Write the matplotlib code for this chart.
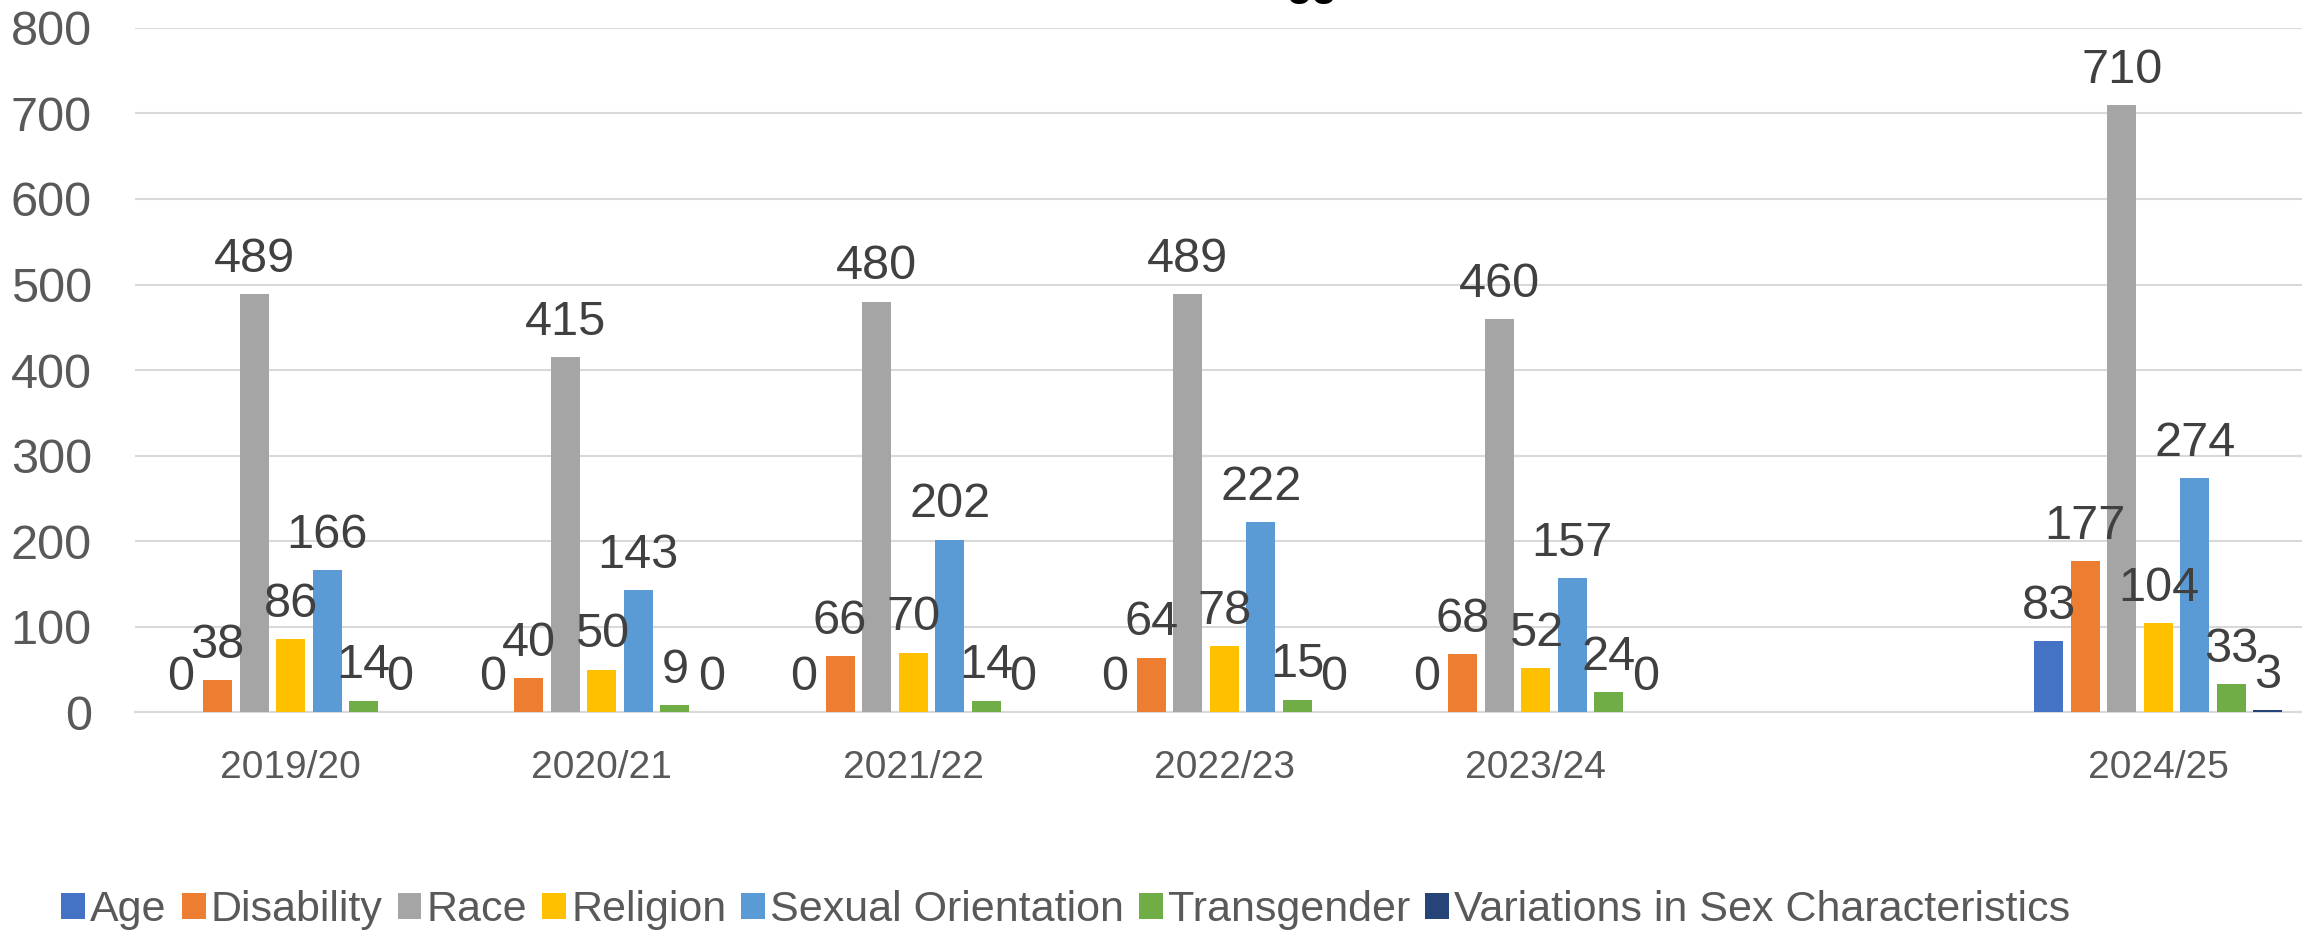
import numpy as np
import matplotlib.pyplot as plt

plt.rcParams['font.family'] = ['Liberation Sans', 'DejaVu Sans']

years = ['2019/20', '2020/21', '2021/22', '2022/23', '2023/24', '', '2024/25']
series = ['Age', 'Disability', 'Race', 'Religion', 'Sexual Orientation',
          'Transgender', 'Variations in Sex Characteristics']
colors = ['#4472C4', '#ED7D31', '#A5A5A5', '#FFC000', '#5B9BD5', '#70AD47', '#264478']

nan = np.nan
age = [0, 0, 0, 0, 0, nan, 83]
disability = [38, 40, 66, 64, 68, nan, 177]
race = [489, 415, 480, 489, 460, nan, 710]
religion = [86, 50, 70, 78, 52, nan, 104]
sexual_orientation = [166, 143, 202, 222, 157, nan, 274]
transgender = [14, 9, 14, 15, 24, nan, 33]
variations = [0, 0, 0, 0, 0, nan, 3]
values = [age, disability, race, religion, sexual_orientation, transgender, variations]

fig = plt.figure(figsize=(23.02, 9.31), dpi=100)
ax = fig.add_axes([0.0586, 0.2347, 0.9466, 0.7355])

x = np.arange(len(years))
pitch = 0.1173
width = 0.0932
for i, (name, vals, c) in enumerate(zip(series, values, colors)):
    pos = x + (i - 3) * pitch
    v = np.array(vals, dtype=float)
    ax.bar(pos, v, width=width, color=c, label=name, zorder=3)
    for px, pv in zip(pos, v):
        if np.isnan(pv):
            continue
        ax.annotate(f'{int(pv)}', (px, pv), xytext=(0, 16), textcoords='offset points',
                    ha='center', va='baseline', fontsize=35, color='#404040', zorder=4)

ax.set_xlim(-0.5, len(years) - 0.5)
ax.set_ylim(0, 800)
ax.set_yticks(np.arange(0, 801, 100))
ax.set_xticks(x)
ax.set_xticklabels(years)
ax.tick_params(axis='y', length=0, pad=31, labelsize=35, labelcolor='#595959')
ax.tick_params(axis='x', length=0, pad=27, labelsize=28, labelcolor='#595959')
ax.grid(axis='y', color='#D9D9D9', linewidth=1.5, zorder=0)
for s in ['top', 'right', 'left']:
    ax.spines[s].set_visible(False)
ax.spines['bottom'].set_color('#D9D9D9')
ax.spines['bottom'].set_linewidth(1.5)

# title sits mostly above the visible area
fig.text(0.570, 1 - 4 / 931, 'gg', ha='center', va='bottom', fontsize=30,
         fontweight='bold', color='black')

fig.legend(loc='center', bbox_to_anchor=(0.463, 0.0226), ncol=7, frameon=False,
           fontsize=31, labelcolor='#595959', handlelength=0.55, handleheight=0.55,
           handletextpad=0.12, columnspacing=0.35, borderpad=0)

fig.savefig('out.png', dpi=100)
